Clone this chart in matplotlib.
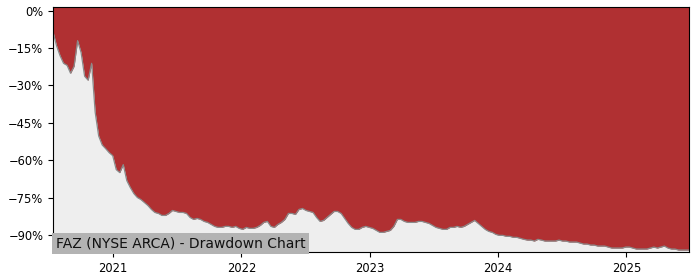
import pandas as pd
import matplotlib
matplotlib.use("Agg")
import matplotlib.pyplot as plt
import matplotlib.ticker as mticker
import matplotlib.dates as mdates

TICKER = "FAZ"
EXCHANGE = "NYSE ARCA"
START = "2020-07-14"
STEP = "10D"

# drawdown from running peak, in percent, one reading every 10 days
drawdown = [
    -8.4, -14.0, -18.0, -21.1, -21.9, -25.1, -22.3, -12.0, -16.8, -26.3,
    -27.9, -21.1, -40.7, -50.3, -53.9, -55.4, -57.0, -58.2, -63.8, -65.0,
    -61.8, -68.2, -71.0, -73.4, -75.0, -75.8, -77.0, -78.2, -79.8, -81.0,
    -81.4, -82.2, -82.2, -81.4, -80.2, -80.6, -81.0, -81.0, -81.4, -83.0,
    -83.8, -83.4, -83.8, -84.6, -85.0, -85.8, -86.6, -87.0, -87.0, -86.6,
    -86.6, -87.0, -86.6, -87.4, -87.8, -87.0, -87.4, -87.4, -87.0, -86.2,
    -85.0, -84.6, -86.6, -87.0, -85.8, -85.0, -83.8, -81.4, -81.4, -81.8,
    -79.8, -79.4, -80.2, -80.6, -81.0, -83.0, -84.6, -84.2, -83.0, -81.8,
    -80.6, -80.6, -81.4, -83.4, -85.4, -87.0, -87.8, -87.8, -87.0, -86.6,
    -87.0, -87.4, -88.2, -89.0, -89.0, -88.6, -88.2, -86.6, -83.8, -83.8,
    -84.6, -85.0, -85.0, -85.0, -84.6, -84.6, -85.0, -85.4, -86.2, -87.0,
    -87.4, -87.8, -87.8, -87.0, -87.0, -86.6, -87.0, -86.6, -85.8, -85.0,
    -84.2, -85.4, -86.6, -87.8, -88.6, -89.0, -89.8, -90.2, -90.2, -90.6,
    -90.6, -91.0, -91.0, -91.4, -91.8, -92.1, -92.1, -92.5, -91.8, -92.1,
    -92.5, -92.5, -92.5, -92.5, -92.1, -92.5, -92.5, -92.9, -92.9, -92.9,
    -93.3, -93.7, -93.7, -94.1, -94.1, -94.5, -94.5, -94.5, -94.9, -95.3,
    -95.3, -95.3, -95.3, -94.9, -94.9, -95.3, -95.7, -95.7, -95.7, -95.7,
    -95.3, -94.9, -95.3, -94.9, -94.5, -95.3, -95.7, -95.7, -96.1, -96.1,
    -96.1, -96.1,
]
dates = pd.date_range(START, periods=len(drawdown), freq=STEP)

Y_TOP = 1.4
Y_BOTTOM = -97.0

fig = plt.figure(figsize=(7, 2.8), dpi=100)
ax = fig.add_axes([0.0757, 0.099, 0.9086, 0.875])
ax.set_facecolor("#eeeeee")

ax.fill_between(dates, drawdown, Y_TOP, color="#b03032", linewidth=0)
ax.plot(dates, drawdown, color="#8a8a8a", linewidth=0.9)

ax.set_xlim(dates[0], dates[-1])
ax.set_ylim(Y_BOTTOM, Y_TOP)
ax.xaxis.set_major_locator(mdates.YearLocator())
ax.xaxis.set_major_formatter(mdates.DateFormatter("%Y"))
ax.yaxis.set_major_locator(mticker.MultipleLocator(15))
ax.yaxis.set_major_formatter(mticker.PercentFormatter(xmax=100, decimals=0))
ax.tick_params(labelsize=8.3)

ax.text(0.004, 0.018, f"{TICKER} ({EXCHANGE}) - Drawdown Chart",
        transform=ax.transAxes, fontsize=10, color="#111111",
        bbox=dict(facecolor="#b3b3b3", edgecolor="none", pad=2.5))

fig.savefig("out.png", dpi=100)
